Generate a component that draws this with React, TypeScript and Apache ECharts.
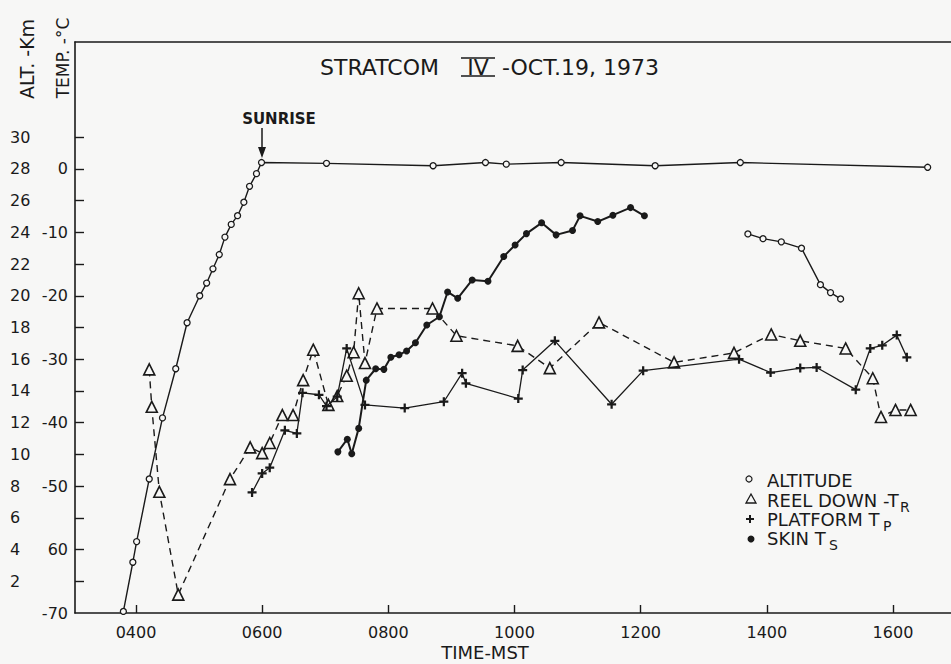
import React, { useEffect, useRef } from 'react';
import * as echarts from 'echarts';

// ---------- data (time in decimal hours MST) ----------
const timeTicks = [4, 6, 8, 10, 12, 14, 16];
const tempTicks = [-70, -60, -50, -40, -30, -20, -10, 0];
const altTicks = [2, 4, 6, 8, 10, 12, 14, 16, 18, 20, 22, 24, 26, 28, 30];

// altitude (km) – ascent and float
const altitudeFlight: [number, number][] = [
  [3.80, 0.1], [3.95, 3.2], [4.01, 4.5], [4.21, 8.45], [4.42, 12.3], [4.63, 15.4],
  [4.81, 18.3], [5.01, 20.0], [5.12, 20.8], [5.22, 21.7], [5.32, 22.6], [5.41, 23.7],
  [5.51, 24.5], [5.61, 25.05], [5.71, 25.9], [5.80, 26.9], [5.91, 27.7], [5.99, 28.4],
  [7.02, 28.35], [8.71, 28.2], [9.54, 28.4], [9.87, 28.3], [10.74, 28.4], [12.23, 28.2],
  [13.58, 28.4], [16.55, 28.1],
];
// altitude (km) – reel-down segment
const altitudeReel: [number, number][] = [
  [13.70, 23.9], [13.94, 23.6], [14.23, 23.4], [14.55, 23.0], [14.85, 20.7], [15.01, 20.2], [15.17, 19.8],
];
// temperatures (deg C)
const reelDown: [number, number][] = [
  [4.21, -31.6], [4.25, -37.5], [4.37, -50.9], [4.67, -67.1], [5.49, -48.9], [5.81, -43.9],
  [6.00, -44.8], [6.12, -43.2], [6.32, -38.8], [6.49, -38.8], [6.65, -33.3], [6.81, -28.5],
  [7.05, -37.2], [7.19, -35.8], [7.34, -32.6], [7.45, -28.9], [7.53, -19.6], [7.63, -30.6],
  [7.82, -22.0], [8.70, -22.0], [9.08, -26.3], [10.05, -27.9], [10.56, -31.4], [11.34, -24.2],
  [12.53, -30.5], [13.48, -29.0], [14.07, -26.1], [14.53, -27.1], [15.25, -28.3], [15.68, -33.0],
  [15.81, -39.1], [16.04, -38.0], [16.28, -38.0],
];
const platform: [number, number][] = [
  [5.84, -51.0], [6.00, -48.0], [6.12, -47.1], [6.36, -41.2], [6.55, -41.7], [6.64, -35.3],
  [6.90, -35.6], [7.02, -37.4], [7.19, -35.9], [7.34, -28.3], [7.63, -37.2], [8.26, -37.7],
  [8.88, -36.7], [9.17, -32.2], [9.23, -33.8], [10.06, -36.2], [10.13, -31.7], [10.64, -27.1],
  [11.54, -37.1], [12.04, -31.8], [13.56, -30.0], [14.06, -32.1], [14.53, -31.4], [14.79, -31.3],
  [15.41, -34.8], [15.64, -28.3], [15.83, -27.8], [16.06, -26.2], [16.22, -29.7],
];
const skin: [number, number][] = [
  [7.20, -44.6], [7.35, -42.6], [7.42, -44.9], [7.53, -40.9], [7.65, -33.3], [7.80, -31.5],
  [7.93, -31.6], [8.04, -29.7], [8.17, -29.3], [8.29, -28.7], [8.43, -27.4], [8.61, -24.6],
  [8.81, -23.3], [8.94, -19.4], [9.10, -20.4], [9.33, -17.5], [9.58, -17.7], [9.83, -13.8],
  [10.01, -12.0], [10.19, -10.2], [10.43, -8.5], [10.66, -10.4], [10.92, -9.7], [11.04, -7.4],
  [11.32, -8.3], [11.56, -7.3], [11.84, -6.1], [12.06, -7.4],
];

// ---------- style ----------
const INK = '#1a1a1a';
const BG = '#f7f7f6';
const FONT = 'DejaVu Sans';
const X_MIN = 3.033;
const X_MAX = 16.92;
const PLUS = 'path://M3,0H5V3H8V5H5V8H3V5H0V3H3Z';

const fmtTime = (v: number) => {
  const h = Math.round(v);
  return (h < 10 ? '0' : '') + h + '00';
};
const fmtTemp = (v: number) => (v === -60 ? '60' : String(v));

function buildOption(): echarts.EChartsOption {
  const tickLine = { color: INK, width: 1.4 };
  const label = { color: INK, fontFamily: FONT, fontSize: 16 };
  const txt = (text: string, x: number, y: number, size: number, extra: any = {}) => ({
    type: 'text', x, y, silent: true, ...extra,
    style: { text, fill: INK, fontFamily: FONT, fontSize: size, align: 'left', verticalAlign: 'middle', ...(extra.style || {}) },
  });
  return {
    animation: false,
    backgroundColor: BG,
    grid: { left: 75, right: 0, top: 42, bottom: 51, containLabel: false },
    xAxis: [
      {
        type: 'value', min: X_MIN, max: X_MAX, position: 'bottom', splitLine: { show: false },
        axisLine: { show: true, onZero: false, lineStyle: { color: INK, width: 1.6 } },
        axisTick: { show: true, inside: true, length: 8, customValues: timeTicks, lineStyle: tickLine },
        axisLabel: { ...label, customValues: timeTicks, formatter: fmtTime, margin: 11 },
      },
      {
        type: 'value', min: X_MIN, max: X_MAX, position: 'top', splitLine: { show: false },
        axisLine: { show: true, onZero: false, lineStyle: { color: INK, width: 1.6 } },
        axisTick: { show: false }, axisLabel: { show: false },
      },
    ],
    yAxis: [
      {
        type: 'value', min: -70, max: 20, position: 'left', splitLine: { show: false },
        axisLine: { show: true, onZero: false, lineStyle: { color: INK, width: 1.6 } },
        axisTick: { show: true, inside: true, length: 9, customValues: altTicks.map((a) => a * 2.5 - 70), lineStyle: tickLine },
        axisLabel: { ...label, customValues: tempTicks, formatter: fmtTemp, margin: 7 },
      },
      {
        type: 'value', min: 0, max: 36, position: 'left', offset: 57, splitLine: { show: false },
        axisLine: { show: false }, axisTick: { show: false },
        axisLabel: { ...label, customValues: altTicks, align: 'left', margin: 8 },
      },
    ],
    series: [
      {
        type: 'line', name: 'ALTITUDE', yAxisIndex: 1, data: altitudeFlight, symbol: 'circle', symbolSize: 6,
        showAllSymbol: true, silent: true, z: 3,
        lineStyle: { color: INK, width: 1.4 }, itemStyle: { color: BG, borderColor: INK, borderWidth: 1.3 },
      },
      {
        type: 'line', name: 'ALTITUDE (reel)', yAxisIndex: 1, data: altitudeReel, symbol: 'circle', symbolSize: 6,
        showAllSymbol: true, silent: true, z: 3,
        lineStyle: { color: INK, width: 1.4 }, itemStyle: { color: BG, borderColor: INK, borderWidth: 1.3 },
      },
      {
        type: 'line', name: 'REEL DOWN', yAxisIndex: 0, data: reelDown, symbol: 'triangle', symbolSize: 11,
        showAllSymbol: true, silent: true, z: 4,
        lineStyle: { color: INK, width: 1.4, type: [7, 5] }, itemStyle: { color: BG, borderColor: INK, borderWidth: 1.6 },
      },
      {
        type: 'line', name: 'PLATFORM', yAxisIndex: 0, data: platform, symbol: PLUS, symbolSize: 9,
        showAllSymbol: true, silent: true, z: 5,
        lineStyle: { color: INK, width: 1.3 }, itemStyle: { color: INK },
      },
      {
        type: 'line', name: 'SKIN', yAxisIndex: 0, data: skin, symbol: 'circle', symbolSize: 7,
        showAllSymbol: true, silent: true, z: 6,
        lineStyle: { color: INK, width: 2 }, itemStyle: { color: INK },
      },
    ],
    graphic: [
      // axis titles
      txt('ALT. -Km', 27, 59, 19, { rotation: Math.PI / 2, style: { align: 'center' } }),
      txt('TEMP. -°C', 63, 58, 17, { rotation: Math.PI / 2, style: { align: 'center' } }),
      txt('TIME-MST', 485, 652, 18, { style: { align: 'center' } }),
      // title
      txt('STRATCOM', 320, 67, 22),
      txt('IV', 478, 67, 22, { style: { align: 'center' } }),
      { type: 'line', silent: true, shape: { x1: 461, y1: 58, x2: 495, y2: 58 }, style: { stroke: INK, lineWidth: 1.7 } },
      { type: 'line', silent: true, shape: { x1: 461, y1: 76, x2: 495, y2: 76 }, style: { stroke: INK, lineWidth: 1.7 } },
      txt('-OCT.19, 1973', 502, 67, 22),
      // sunrise
      txt('SUNRISE', 279, 119, 15, { style: { align: 'center', fontWeight: 'bold' } }),
      { type: 'line', silent: true, shape: { x1: 262, y1: 128, x2: 262, y2: 152 }, style: { stroke: INK, lineWidth: 1.5 } },
      { type: 'polygon', silent: true, shape: { points: [[258, 147], [266, 147], [262, 158]] }, style: { fill: INK } },
      // legend
      { type: 'circle', silent: true, shape: { cx: 749, cy: 479, r: 3 }, style: { fill: BG, stroke: INK, lineWidth: 1.2 } },
      txt('ALTITUDE', 767, 480, 18),
      { type: 'polygon', silent: true, shape: { points: [[751, 494], [746, 503], [756, 503]] }, style: { fill: BG, stroke: INK, lineWidth: 1.3 } },
      txt('REEL DOWN -T', 767, 500, 18),
      txt('R', 900, 507, 14),
      { type: 'line', silent: true, shape: { x1: 746, y1: 519, x2: 754, y2: 519 }, style: { stroke: INK, lineWidth: 2 } },
      { type: 'line', silent: true, shape: { x1: 750, y1: 515, x2: 750, y2: 523 }, style: { stroke: INK, lineWidth: 2 } },
      txt('PLATFORM T', 767, 519, 18),
      txt('P', 883, 526, 14),
      { type: 'circle', silent: true, shape: { cx: 751, cy: 539, r: 3.5 }, style: { fill: INK } },
      txt('SKIN T', 767, 538, 18),
      txt('S', 829, 545, 14),
    ] as any,
  } as echarts.EChartsOption;
}

export default function App() {
  const ref = useRef<HTMLDivElement>(null);
  useEffect(() => {
    if (!ref.current) return;
    const chart = echarts.init(ref.current, null, { renderer: 'svg' });
    chart.setOption(buildOption());
    return () => chart.dispose();
  }, []);
  return <div ref={ref} style={{ position: 'fixed', left: 0, top: 0, width: 951, height: 664 }} />;
}
